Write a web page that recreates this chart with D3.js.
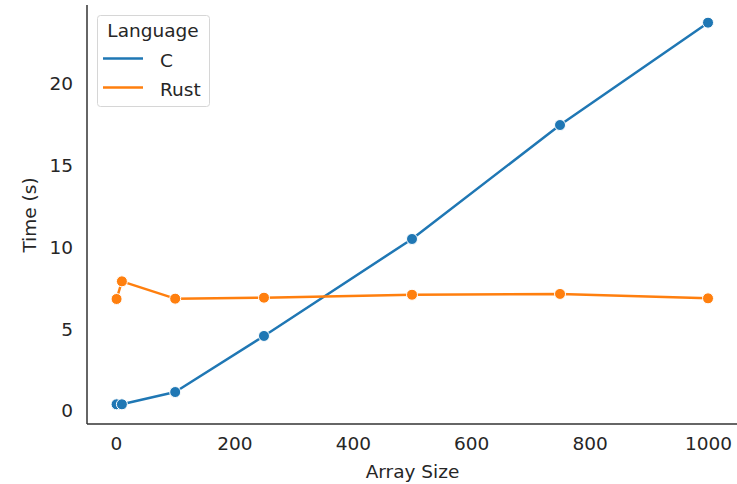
<!DOCTYPE html>
<html>
<head>
<meta charset="utf-8">
<script src="https://cdn.jsdelivr.net/npm/d3@7"></script>
<style>
  html, body { margin: 0; padding: 0; background: #fff; }
  svg { display: block; }
  text { font-family: "DejaVu Sans", sans-serif; fill: #262626; }
</style>
</head>
<body>
<script>
const arraySizes = [1, 10, 100, 250, 500, 750, 1000];
const cTimes = [0.41, 0.41, 1.16, 4.59, 10.52, 17.49, 23.75];
const rustTimes = [6.85, 7.93, 6.87, 6.93, 7.11, 7.16, 6.89];
const seriesNames = ["C", "Rust"];
const xTicks = [0, 200, 400, 600, 800, 1000];
const yTicks = [0, 5, 10, 15, 20];

const W = 737, H = 484;
const colors = { "C": "#1f77b4", "Rust": "#ff7f0e" };
const series = [
  { name: "C", values: cTimes },
  { name: "Rust", values: rustTimes }
];

const svg = d3.select("body").append("svg").attr("width", W).attr("height", H);

const pLeft = 87, pRight = 737, pTop = 5, pBottom = 424;
const x = d3.scaleLinear().domain([-48.95, 1049.95]).range([pLeft, pRight + 0.6]);
const y = d3.scaleLinear().domain([-0.795, 24.83]).range([pBottom, pTop]);

const fs = 18.5;
const xAxis = svg.append("g").attr("transform", `translate(0,${pBottom})`)
  .call(d3.axisBottom(x).tickValues(xTicks).tickSize(0).tickPadding(13).tickFormat(d3.format("d")));
const yAxis = svg.append("g").attr("transform", `translate(${pLeft},0)`)
  .call(d3.axisLeft(y).tickValues(yTicks).tickSize(0).tickPadding(14).tickFormat(d3.format("d")));
[xAxis, yAxis].forEach(a => {
  a.select(".domain").remove();
  a.selectAll("text").style("font-family", "DejaVu Sans").style("font-size", fs + "px").attr("fill", "#262626");
});

// spines
svg.append("line").attr("x1", pLeft).attr("x2", pLeft).attr("y1", pTop).attr("y2", pBottom)
  .attr("stroke", "#333").attr("stroke-width", 1.5);
svg.append("line").attr("x1", pLeft).attr("x2", pRight).attr("y1", pBottom).attr("y2", pBottom)
  .attr("stroke", "#333").attr("stroke-width", 1.5);

// axis labels
svg.append("text").attr("x", 412.5).attr("y", 478)
  .attr("text-anchor", "middle").style("font-size", fs + "px").text("Array Size");
svg.append("text").attr("transform", "translate(36,215) rotate(-90)")
  .attr("text-anchor", "middle").style("font-size", fs + "px").text("Time (s)");

// lines & markers
const line = d3.line().x((d, i) => x(arraySizes[i])).y(d => y(d));
series.forEach(s => {
  svg.append("path").datum(s.values).attr("d", line)
    .attr("fill", "none").attr("stroke", colors[s.name]).attr("stroke-width", 2.5)
    .attr("stroke-linejoin", "round").attr("stroke-linecap", "round");
});
series.forEach(s => {
  svg.append("g").selectAll("circle").data(s.values).join("circle")
    .attr("cx", (d, i) => x(arraySizes[i])).attr("cy", d => y(d)).attr("r", 5.5)
    .attr("fill", colors[s.name]).attr("stroke", "#fff").attr("stroke-width", 1);
});

// legend
const lg = svg.append("g");
lg.append("rect").attr("x", 97.5).attr("y", 15.5).attr("width", 112).attr("height", 91)
  .attr("rx", 3).attr("fill", "#fff").attr("fill-opacity", 0.8)
  .attr("stroke", "#d6d6d6").attr("stroke-width", 1);
lg.append("text").attr("x", 153).attr("y", 37).attr("text-anchor", "middle")
  .style("font-size", fs + "px").text("Language");
seriesNames.forEach((n, i) => {
  const yy = 58.5 + i * 29;
  lg.append("line").attr("x1", 103).attr("x2", 143).attr("y1", yy).attr("y2", yy)
    .attr("stroke", colors[n]).attr("stroke-width", 2.5);
  lg.append("text").attr("x", 160).attr("y", yy + 8).style("font-size", fs + "px").text(n);
});
</script>
</body>
</html>
